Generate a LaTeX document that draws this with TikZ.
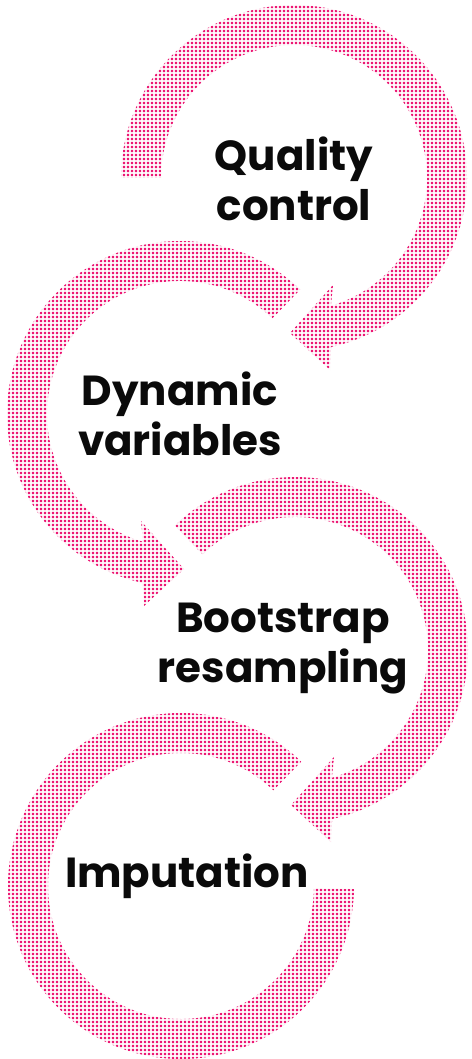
\documentclass[tikz,border=0pt]{standalone}
\usepackage{fontspec}
\setmainfont{Poppins}
\usetikzlibrary{patterns,calc}
\definecolor{dotpink}{RGB}{236,24,116}
\definecolor{txtblack}{RGB}{10,10,10}
\pgfdeclarepatternformonly{pdots}{\pgfpointorigin}{\pgfpoint{4.4pt}{4.4pt}}{\pgfpoint{4.4pt}{4.4pt}}{\pgfpathrectangle{\pgfpoint{1.1pt}{1.1pt}}{\pgfpoint{2.4pt}{2.4pt}}\pgfusepath{fill}}
\begin{document}
\begin{tikzpicture}[x=1pt,y=1pt,
  band/.style={pattern=pdots, pattern color=dotpink},
  label/.style={text=txtblack, font=\bfseries\fontsize{42}{50}\selectfont, align=center, inner sep=0pt}]
\useasboundingbox (0,0) rectangle (471,-1059);
\fill[white] (0,0) rectangle (471,-1059);
\coordinate (c1) at (294,-178);
\coordinate (c2) at (180,-414);
\coordinate (c3) at (295,-650);
\coordinate (c4) at (181,-886);
% ring 1: clockwise from 180 to arrowhead
\fill[band] ($(c1)+(180:173)$) arc[start angle=180, end angle=-77.6, radius=173]
  -- ($(c1)+(36,-192)$) -- ($(c1)+(-4,-155)$) -- ($(c1)+(39,-107)$)
  -- ($(c1)+(-73.9:133)$) arc[start angle=-73.9, end angle=180, radius=133] -- cycle;
% ring 2: counterclockwise from 46
\fill[band] ($(c2)+(46:173)$) arc[start angle=46, end angle=257.6, radius=173]
  -- ($(c2)+(-36,-192)$) -- ($(c2)+(4,-155)$) -- ($(c2)+(-39,-107)$)
  -- ($(c2)+(253.9:133)$) arc[start angle=253.9, end angle=46, radius=133] -- cycle;
% ring 3: clockwise from 134
\fill[band] ($(c3)+(134:173)$) arc[start angle=134, end angle=-77.6, radius=173]
  -- ($(c3)+(36,-192)$) -- ($(c3)+(-4,-155)$) -- ($(c3)+(39,-107)$)
  -- ($(c3)+(-73.9:133)$) arc[start angle=-73.9, end angle=134, radius=133] -- cycle;
% ring 4: counterclockwise from 46 to 359
\fill[band] ($(c4)+(46:173)$) arc[start angle=46, end angle=359, radius=173]
  -- ($(c4)+(359:133)$) arc[start angle=359, end angle=46, radius=133] -- cycle;
\node[label] (t1) at (294,-179) {Quality\\control};
\node[label] (t2) at (180,-414) {Dynamic\\variables};
\node[label] (t3) at (283,-649) {Bootstrap\\resampling};
\node[label] (t4) at (187,-876) {Imputation};
\end{tikzpicture}
\end{document}
